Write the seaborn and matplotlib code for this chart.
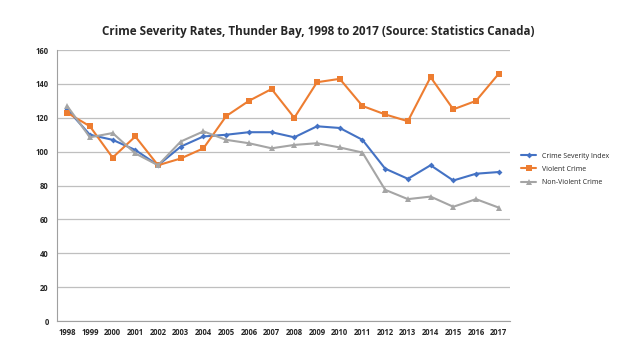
import matplotlib
matplotlib.use("Agg")
import matplotlib.pyplot as plt
import pandas as pd
import seaborn as sbn

# datos
anios = list(range(1998, 2018))
indice_severidad = [125, 110, 107, 101, 92, 103, 109, 110, 111.5, 111.5,
                    108.5, 115, 114, 107, 90, 84, 92, 83, 87, 88]
crimen_violento = [123, 115, 96.5, 109, 92, 96, 102, 121, 130, 137,
                   120, 141, 143, 127, 122, 118, 144, 125, 130, 146]
crimen_no_violento = [127, 108.5, 111, 99, 92, 106, 112, 107, 105, 102,
                      104, 105, 102.5, 99.5, 77.5, 72, 73.5, 67.5, 72, 67]

series = ["Crime Severity Index", "Violent Crime", "Non-Violent Crime"]
colores = ["#4472C4", "#ED7D31", "#A5A5A5"]
marcadores = ["D", "s", "^"]
tamanos = [3, 4, 4]

df = pd.DataFrame({
    "Year": anios * 3,
    "Value": indice_severidad + crimen_violento + crimen_no_violento,
    "Serie": [series[0]] * 20 + [series[1]] * 20 + [series[2]] * 20,
})

sbn.set_style("white")
plt.rcParams["font.family"] = ["Open Sans", "DejaVu Sans"]

fig = plt.figure(figsize=(6.4, 3.6), dpi=100)
ax = fig.add_axes([0.089, 0.108, 0.708, 0.753])

for nombre, color, marca, tam in zip(series, colores, marcadores, tamanos):
    sub = df[df["Serie"] == nombre]
    sbn.lineplot(data=sub, x="Year", y="Value", ax=ax, color=color, marker=marca,
                 markersize=tam, markeredgewidth=0, linewidth=1.5, label=nombre)

ax.set_ylim(0, 160)
ax.set_yticks(range(0, 161, 20))
ax.set_xlim(1997.55, 2017.5)
ax.set_xticks(anios)
ax.set_xticklabels([str(a) for a in anios], fontsize=5.5, fontweight="bold")
ax.tick_params(axis="y", labelsize=5.5, length=0, pad=6)
ax.tick_params(axis="x", length=0, pad=5)
for lbl in ax.get_yticklabels():
    lbl.set_fontweight("bold")
ax.set_xlabel("")
ax.set_ylabel("")
ax.grid(axis="y", color="#bfbfbf", linewidth=0.9)
ax.set_axisbelow(True)
for lado in ["top", "right"]:
    ax.spines[lado].set_visible(False)
ax.spines["left"].set_color("#a0a0a0")
ax.spines["bottom"].set_color("#a0a0a0")

ax.legend(loc="center left", bbox_to_anchor=(1.01, 0.56), frameon=False,
          fontsize=5, handlelength=2.2, labelspacing=0.9)

fig.suptitle("Crime Severity Rates, Thunder Bay, 1998 to 2017 (Source: Statistics Canada)",
             x=0.497, y=0.93, fontsize=8.4, fontweight="bold")

fig.savefig("out.png", dpi=100)
